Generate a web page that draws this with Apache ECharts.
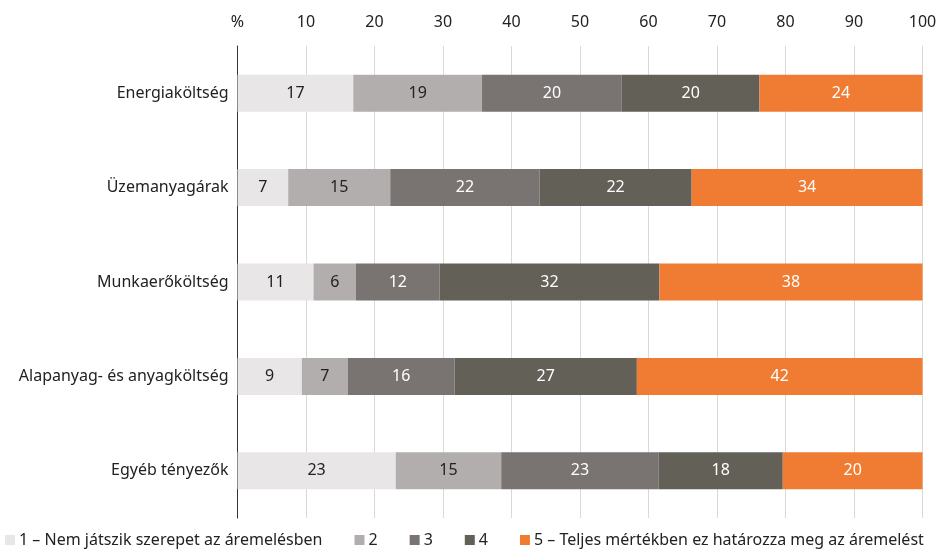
<!DOCTYPE html>
<html><head><meta charset="utf-8">
<script src="https://cdn.jsdelivr.net/npm/echarts@6/dist/echarts.min.js"></script>
<style>html,body{margin:0;padding:0;background:#fff}#c{width:936px;height:554px}</style>
</head><body><div id="c"></div>
<script>
const categories = ['Energiaköltség','Üzemanyagárak','Munkaerőköltség','Alapanyag- és anyagköltség','Egyéb tényezők'];
const seriesNames = ['1 – Nem játszik szerepet az áremelésben','2','3','4','5 – Teljes mértékben ez határozza meg az áremelést'];
const s1 = [16.9, 7.4, 11.1, 9.4, 23.1];
const s2 = [18.8, 14.9, 6.2, 6.7, 15.4];
const s3 = [20.4, 21.8, 12.2, 15.6, 23.0];
const s4 = [20.1, 22.2, 32.1, 26.6, 18.1];
const s5 = [23.8, 33.7, 38.4, 41.7, 20.4];
const xTicks = ['%','10','20','30','40','50','60','70','80','90','100'];
const colors = ['#e8e6e7','#b3aeae','#797372','#636058','#f07c33'];
const labelColors = ['#222','#222','#fff','#fff','#fff'];
const values = [s1,s2,s3,s4,s5];
const FONT = 'Noto Sans';
const chart = echarts.init(document.getElementById('c'));
chart.setOption({
  animation:false,
  textStyle:{fontFamily:FONT},
  grid:{left:237.5,right:13.5,top:46,bottom:36,containLabel:false,outerBoundsMode:'none'},
  legend:{
    bottom:1,left:0,itemWidth:10,itemHeight:10,itemGap:32,icon:'rect',
    textStyle:{fontFamily:FONT,fontSize:16,color:'#222',padding:[0,0,0,-1]},
    data:seriesNames
  },
  xAxis:{
    type:'value',position:'top',min:0,max:100,interval:10,
    axisLine:{show:false},axisTick:{show:false},
    splitLine:{show:true,lineStyle:{color:'#d9d9d9',width:1}},
    axisLabel:{margin:16,fontSize:16,color:'#222',fontFamily:FONT,
      formatter:v=>xTicks[Math.round(v/10)]}
  },
  yAxis:{
    type:'category',inverse:true,data:categories,
    axisLine:{show:true,lineStyle:{color:'#333',width:1}},
    axisTick:{show:false},
    axisLabel:{margin:9,fontSize:16,color:'#222',fontFamily:FONT}
  },
  series: values.map((v,i)=>({
    name:seriesNames[i],type:'bar',stack:'total',barWidth:37,
    itemStyle:{color:colors[i]},
    label:{show:true,position:'inside',fontSize:16,fontFamily:FONT,color:labelColors[i],
      formatter:p=>Math.round(p.value)},
    data:v
  }))
});
</script></body></html>
